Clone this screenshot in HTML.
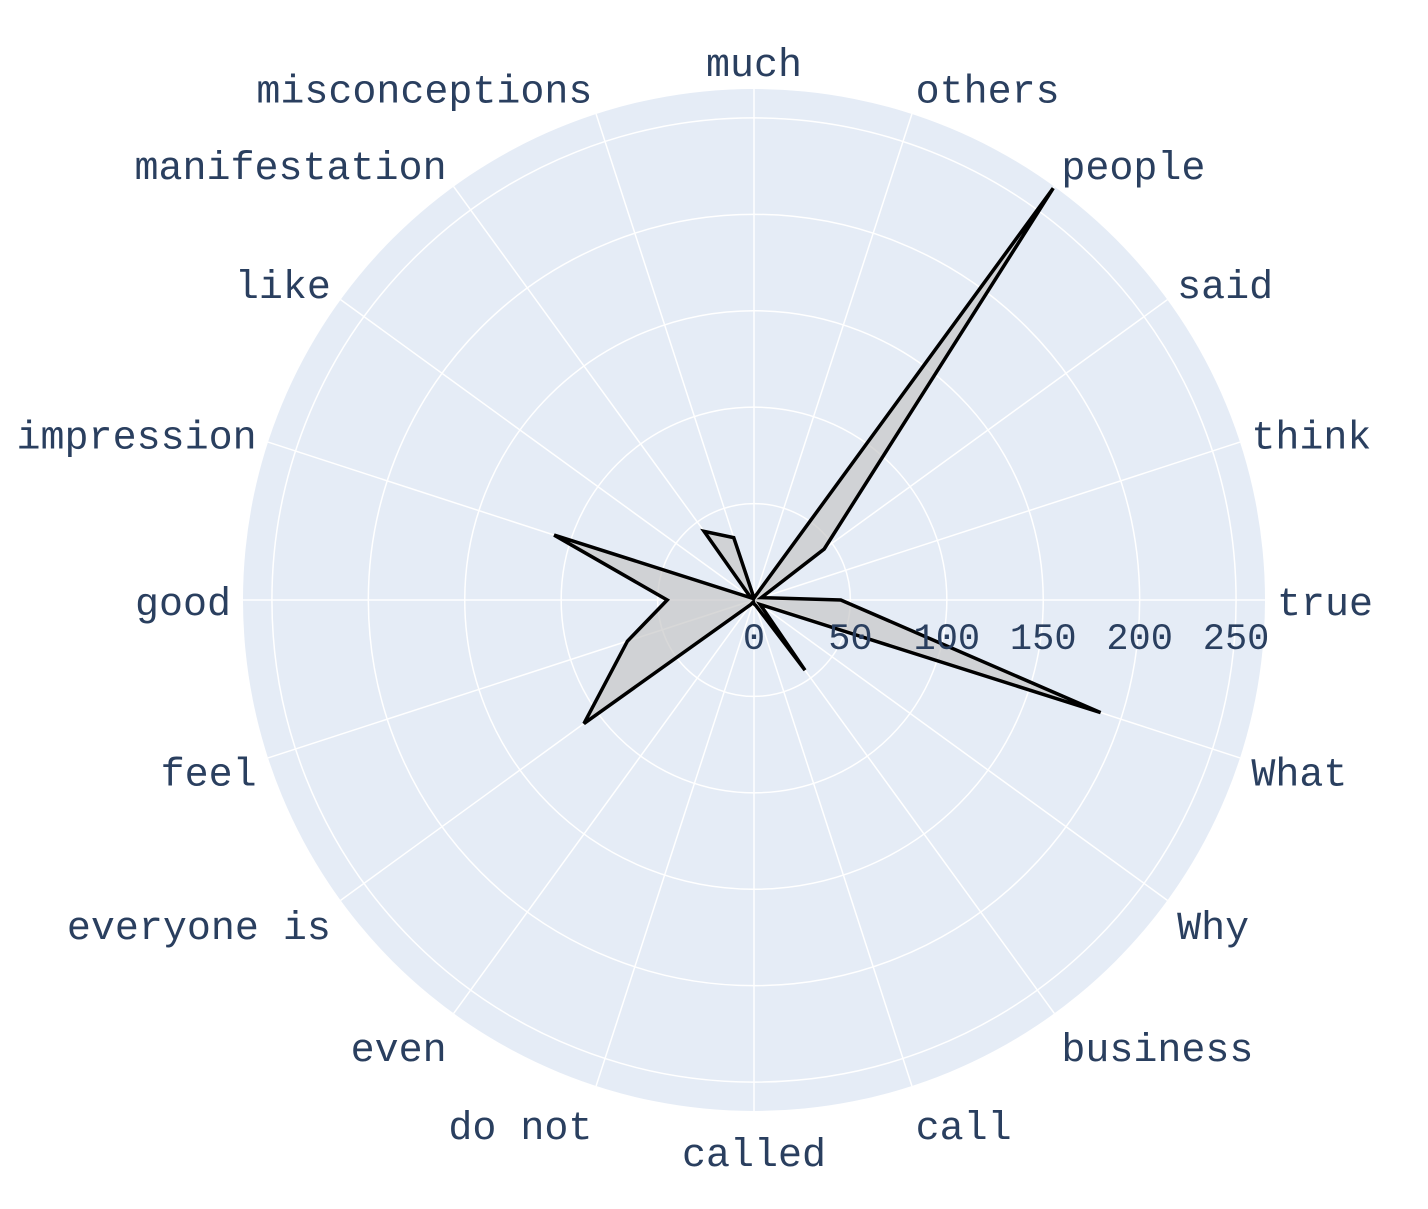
<!DOCTYPE html>
<html><head><meta charset="utf-8"><style>
html,body{margin:0;padding:0;background:#fff;}
svg text{font-family:"Liberation Mono","Courier New",monospace;fill:#2a3f5f;font-size:40px;}
svg text.tick{font-size:37px;}
</style></head><body>
<svg id="chart" width="1428" height="1204" viewBox="0 0 1428 1204" xmlns="http://www.w3.org/2000/svg"></svg>
<script>
const categories = ["true","think","said","people","others","much","misconceptions","manifestation","like","impression","good","feel","everyone is","even","do not","called","call","business","Why","What"];
const values = [45,4,45,264,2,1,34,44,2,109,45,69,109,3,1,2,3,45,4,189];
const radialTicks = [0,50,100,150,200,250];
const rMax = 265;

const svg = document.getElementById('chart');
const NS = 'http://www.w3.org/2000/svg';
const cx = 754, cy = 600, R = 511;
function rScale(v){ return v / rMax * R; }
function angle(i){ return i * 2 * Math.PI / categories.length; }
function pt(i, v){ const a = angle(i), r = rScale(v); return [cx + r*Math.cos(a), cy - r*Math.sin(a)]; }
function mk(tag, attrs){ const e = document.createElementNS(NS, tag); for (const k in attrs) e.setAttribute(k, attrs[k]); svg.appendChild(e); return e; }

const bg = mk('circle', {cx:cx, cy:cy, r:R, fill:'#e5ecf6'});



radialTicks.forEach(t => {
  if (t === 0) return;
  const c = mk('circle', {cx:cx, cy:cy, r:rScale(t), fill:'none', stroke:'#fff', 'stroke-width':1.5});
  
  
});

categories.forEach((c, i) => {
  const p = pt(i, rMax);
  const l = mk('line', {x1:cx, y1:cy, x2:p[0], y2:p[1], stroke:'#fff', 'stroke-width':1.5});
  
  
});

const pts = values.map((v, i) => pt(i, v).join(',')).join(' ');
const poly = mk('polygon', {points:pts, fill:'rgba(200,200,200,0.7)', stroke:'#000', 'stroke-width':3.5, 'stroke-linejoin':'miter'});



radialTicks.forEach(t => {
  const tx = mk('text', {x:cx + rScale(t), y:649, 'text-anchor':'middle', 'class':'tick'});
  tx.textContent = t;
  
  
});

categories.forEach((c, i) => {
  const a = angle(i), co = Math.cos(a), si = Math.sin(a);
  const d = R + 12;
  let x = cx + d*co, y = cy - d*si;
  let anchor = co > 0.1 ? 'start' : (co < -0.1 ? 'end' : 'middle');
  y -= si * (si < 0 ? 28 : 16);
  const tx = mk('text', {x:x, y:y + 15, 'text-anchor':anchor});
  tx.textContent = c;
  
  
});
</script>
</body></html>
